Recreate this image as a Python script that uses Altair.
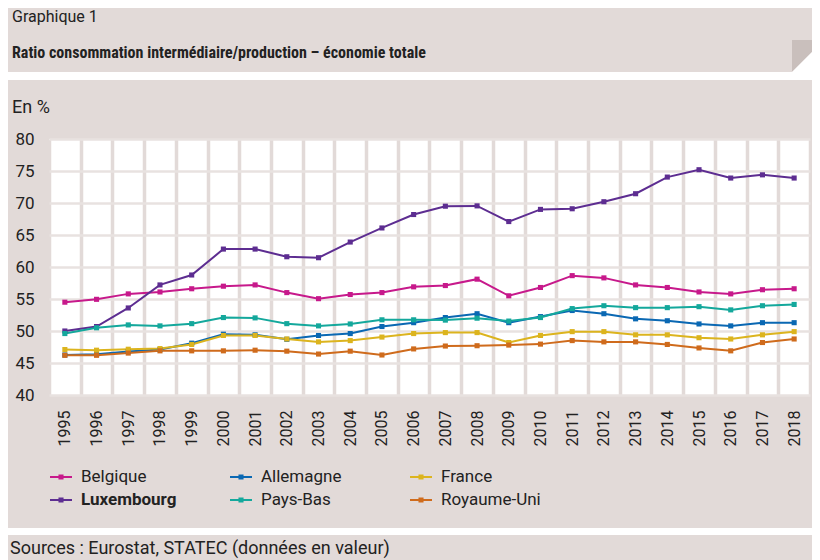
import altair as alt
import pandas as pd

years = [str(y) for y in range(1995, 2019)]
# legend is filled column by column: (Belgique, Luxembourg), (Allemagne, Pays-Bas), (France, Royaume-Uni)
countries = ["Belgique", "Luxembourg", "Allemagne", "Pays-Bas", "France", "Royaume-Uni"]
colors = ["#c7198b", "#5d2d91", "#0a68b3", "#14a89c", "#dcb41e", "#cf6b1c"]

belgique = [54.5, 54.95, 55.8, 56.1, 56.6, 57.0, 57.2, 56.0, 55.05, 55.7, 56.0, 56.9,
            57.1, 58.1, 55.5, 56.8, 58.65, 58.3, 57.2, 56.8, 56.1, 55.8, 56.45, 56.6]
allemagne = [46.25, 46.35, 46.8, 47.1, 48.1, 49.5, 49.4, 48.7, 49.3, 49.6, 50.7, 51.3,
             52.1, 52.7, 51.3, 52.25, 53.2, 52.7, 51.9, 51.6, 51.1, 50.8, 51.3, 51.3]
france = [47.1, 47.0, 47.15, 47.25, 47.9, 49.3, 49.3, 48.75, 48.3, 48.5, 49.05, 49.6,
          49.75, 49.75, 48.2, 49.3, 49.9, 49.9, 49.4, 49.4, 48.95, 48.75, 49.4, 49.9]
luxembourg = [50.0, 50.7, 53.6, 57.2, 58.75, 62.8, 62.8, 61.6, 61.45, 63.9, 66.1, 68.2,
              69.5, 69.55, 67.1, 69.0, 69.1, 70.2, 71.45, 74.05, 75.2, 73.9, 74.4, 73.9]
pays_bas = [49.6, 50.5, 50.95, 50.8, 51.15, 52.1, 52.05, 51.15, 50.8, 51.1, 51.75, 51.75,
            51.7, 52.0, 51.55, 52.1, 53.5, 53.95, 53.65, 53.65, 53.8, 53.3, 53.95, 54.15]
royaume_uni = [46.2, 46.2, 46.55, 46.9, 46.9, 46.9, 47.0, 46.85, 46.4, 46.85, 46.25, 47.2,
               47.65, 47.7, 47.8, 47.95, 48.5, 48.3, 48.3, 47.9, 47.35, 46.9, 48.2, 48.75]

y_ticks = [40, 45, 50, 55, 60, 65, 70, 75, 80]

series = {
    "Belgique": belgique,
    "Allemagne": allemagne,
    "France": france,
    "Luxembourg": luxembourg,
    "Pays-Bas": pays_bas,
    "Royaume-Uni": royaume_uni,
}

rows = []
for c in countries:
    for yr, v in zip(years, series[c]):
        rows.append({"year": yr, "country": c, "value": v})
df = pd.DataFrame(rows)

FONT = "Roboto, sans-serif"
COND = "Roboto Condensed, Liberation Sans Narrow, DejaVu Sans Condensed, Roboto, sans-serif"
BOX = "#e2dad8"
TXT = "#222222"

x_enc = alt.X(
    "year:O",
    sort=years,
    scale=alt.Scale(type="band", paddingInner=0, paddingOuter=0),
    axis=alt.Axis(
        title=None, labelAngle=-90, labelFontSize=16, labelFont=FONT, labelColor=TXT,
        labelPadding=15, ticks=False, domain=False, grid=True, tickBand="extent",
        gridColor="#e2dad8", gridWidth=3.5, labelOverlap=False,
    ),
)
y_enc = alt.Y(
    "value:Q",
    scale=alt.Scale(domain=[40, 80], nice=False, zero=False),
    axis=alt.Axis(
        title=None, values=y_ticks, labelFontSize=17, labelFont=FONT, labelColor=TXT,
        labelPadding=15, ticks=False, domain=False, grid=True,
        gridColor="#e8e2e0", gridWidth=2.5,
    ),
)
color_scale = alt.Scale(domain=countries, range=colors)

sym_path = "M-1,0L1,0M-0.14,-0.14L0.14,-0.14L0.14,0.14L-0.14,0.14Z"

lines = alt.Chart(df).mark_line(
    strokeWidth=2,
    point=alt.OverlayMarkDef(shape="square", filled=True, size=26, opacity=1),
).encode(
    x=x_enc, y=y_enc,
    color=alt.Color(
        "country:N", scale=color_scale, sort=countries,
        legend=alt.Legend(
            title=None, orient="none", legendX=0, legendY=326, columns=3,
            gridAlign="all", columnPadding=45, rowPadding=3, padding=0,
            symbolType=sym_path, symbolSize=484, symbolStrokeWidth=2,
            symbolOpacity=1, labelOffset=8, labelFontSize=17, labelFont=FONT,
            labelColor=TXT,
            labelFontWeight=alt.expr("datum.label == 'Luxembourg' ? 'bold' : 'normal'"),
        ),
    ),
)

one = pd.DataFrame({"k": [0]})

gap1 = alt.Chart(one).mark_rect(color="white").encode(
    x=alt.value(-41), x2=alt.value(763), y=alt.value(-67), y2=alt.value(-59))
gap2 = alt.Chart(one).mark_rect(color="white").encode(
    x=alt.value(-41), x2=alt.value(763), y=alt.value(389), y2=alt.value(396))

fold_dark = alt.Chart(one).mark_point(
    shape="M-1,-1.6L1,-1.6L1,-0.4L-0.9,1.5L-1,1.5Z",
    filled=True, color="#c9bfbc", opacity=1, size=400, strokeWidth=0,
).encode(x=alt.value(753), y=alt.value(-83))
fold_white = alt.Chart(one).mark_point(
    shape="M1,-0.4L1,1.7L-1.05,1.7L-0.9,1.5Z",
    filled=True, color="white", opacity=1, size=400, strokeWidth=0,
).encode(x=alt.value(753), y=alt.value(-83))

def label(txt, x, y, size=16, weight="normal", font=FONT):
    return alt.Chart(one).mark_text(
        text=txt, align="left", baseline="middle", font=font, fontSize=size,
        fontWeight=weight, color=TXT,
    ).encode(x=alt.value(x), y=alt.value(y))

t1 = label("Graphique 1", -37, -122, 16)
t2 = label("Ratio consommation intermédiaire/production – économie totale", -37, -86, 16, "bold", COND)
t3 = label("En %", -37, -31, 18)
t4 = label("Sources : Eurostat, STATEC (données en valeur)", -39, 410, 18)

chart = alt.layer(
    gap1, gap2, fold_dark, fold_white, lines, t1, t2, t3, t4
).properties(
    width=761, height=256,
    background=BOX,
    padding={"left": 41, "top": 131, "right": 2, "bottom": 165},
    autosize=alt.AutoSizeParams(type="none"),
).configure_view(fill="white", stroke=None)

chart.save("out.html", embed_options={"renderer": "svg", "actions": False})
